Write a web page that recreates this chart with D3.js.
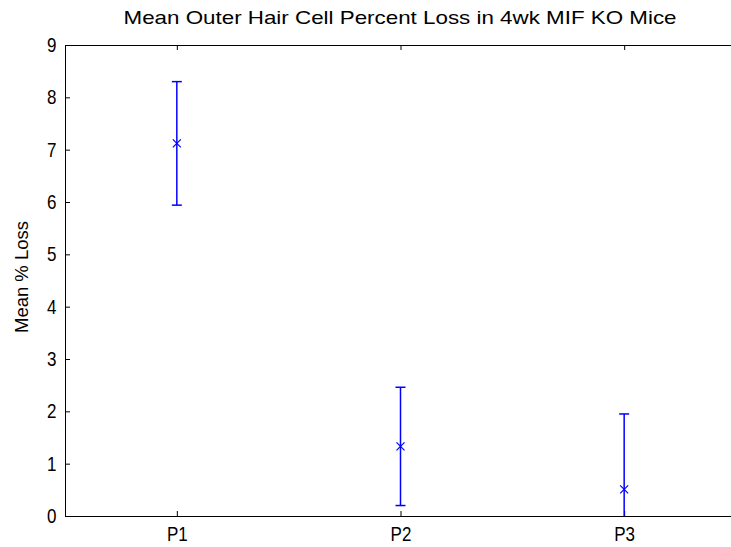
<!DOCTYPE html>
<html>
<head>
<meta charset="utf-8">
<script src="https://cdn.jsdelivr.net/npm/d3@7"></script>
<style>
  body { margin: 0; background: #fff; }
  text { font-family: "Liberation Sans", Arial, sans-serif; fill: #000; }
</style>
</head>
<body>
<div id="chart"></div>
<script>
const categories = ["P1", "P2", "P3"];
const means = [7.12, 1.33, 0.51];
const errors = [1.18, 1.13, 1.44];
const yTicks = [0, 1, 2, 3, 4, 5, 6, 7, 8, 9];

const W = 731, H = 547;
const margin = {top: 45, right: -5, bottom: 31, left: 65};
const width = W - margin.left - margin.right;
const height = H - margin.top - margin.bottom;

const root = d3.select("#chart")
    .append("svg")
    .attr("width", W)
    .attr("height", H);

const svg = root.append("g")
    .attr("transform", `translate(${margin.left},${margin.top})`);

const xScale = d3.scaleLinear().domain([0.5, 3.5]).range([0, width]);
const yScale = d3.scaleLinear().domain([0, 9]).range([height, 0]);

// axes box with inward ticks (matlab style)
svg.append("g")
    .attr("transform", `translate(0,${height})`)
    .call(d3.axisBottom(xScale).tickValues([1, 2, 3]).tickSizeInner(-5).tickSizeOuter(0)
        .tickPadding(11).tickFormat((d, i) => categories[i]));

svg.append("g")
    .call(d3.axisTop(xScale).tickValues([1, 2, 3]).tickSizeInner(-5).tickSizeOuter(0).tickFormat(""));

svg.append("g")
    .call(d3.axisLeft(yScale).tickValues(yTicks).tickSizeInner(-5).tickSizeOuter(0).tickPadding(10));

svg.append("g")
    .attr("transform", `translate(${width},0)`)
    .call(d3.axisRight(yScale).tickValues(yTicks).tickSizeInner(-5).tickSizeOuter(0).tickFormat(""));

svg.selectAll(".domain, .tick line").attr("stroke", "#000").attr("stroke-width", 1);
svg.selectAll(".tick text")
    .attr("font-size", 20)
    .style("font-family", "'Liberation Sans', Arial, sans-serif")
    .attr("transform", "scale(0.85,1)");

// error bars, clipped to axes
svg.append("clipPath").attr("id", "clip")
    .append("rect").attr("width", width).attr("height", height);

const plot = svg.append("g").attr("clip-path", "url(#clip)");
const data = categories.map((c, i) => ({x: i + 1, m: means[i], e: errors[i]}));
const blue = "#0000ff";
const cap = 5;

const bars = plot.selectAll(".eb").data(data).enter().append("g");

bars.append("line")
    .attr("x1", d => xScale(d.x)).attr("x2", d => xScale(d.x))
    .attr("y1", d => yScale(d.m - d.e)).attr("y2", d => yScale(d.m + d.e))
    .attr("stroke", blue).attr("stroke-width", 1.5);

bars.append("line")
    .attr("x1", d => xScale(d.x) - cap).attr("x2", d => xScale(d.x) + cap)
    .attr("y1", d => yScale(d.m + d.e)).attr("y2", d => yScale(d.m + d.e))
    .attr("stroke", blue).attr("stroke-width", 1.5);

bars.append("line")
    .attr("x1", d => xScale(d.x) - cap).attr("x2", d => xScale(d.x) + cap)
    .attr("y1", d => yScale(d.m - d.e)).attr("y2", d => yScale(d.m - d.e))
    .attr("stroke", blue).attr("stroke-width", 1.5);

// x markers
bars.append("path")
    .attr("d", d => {
        const cx = xScale(d.x), cy = yScale(d.m), r = 4;
        return `M${cx - r},${cy - r}L${cx + r},${cy + r}M${cx - r},${cy + r}L${cx + r},${cy - r}`;
    })
    .attr("stroke", blue).attr("stroke-width", 1.2).attr("fill", "none");

// title and label
root.append("text")
    .attr("x", 400).attr("y", 24)
    .attr("text-anchor", "middle")
    .attr("font-size", 19)
    .attr("textLength", 553)
    .attr("lengthAdjust", "spacingAndGlyphs")
    .text("Mean Outer Hair Cell Percent Loss in 4wk MIF KO Mice");

root.append("text")
    .attr("transform", `translate(28,277) rotate(-90)`)
    .attr("text-anchor", "middle")
    .attr("font-size", 19)
    .attr("textLength", 112)
    .attr("lengthAdjust", "spacingAndGlyphs")
    .text("Mean % Loss");
</script>
</body>
</html>
